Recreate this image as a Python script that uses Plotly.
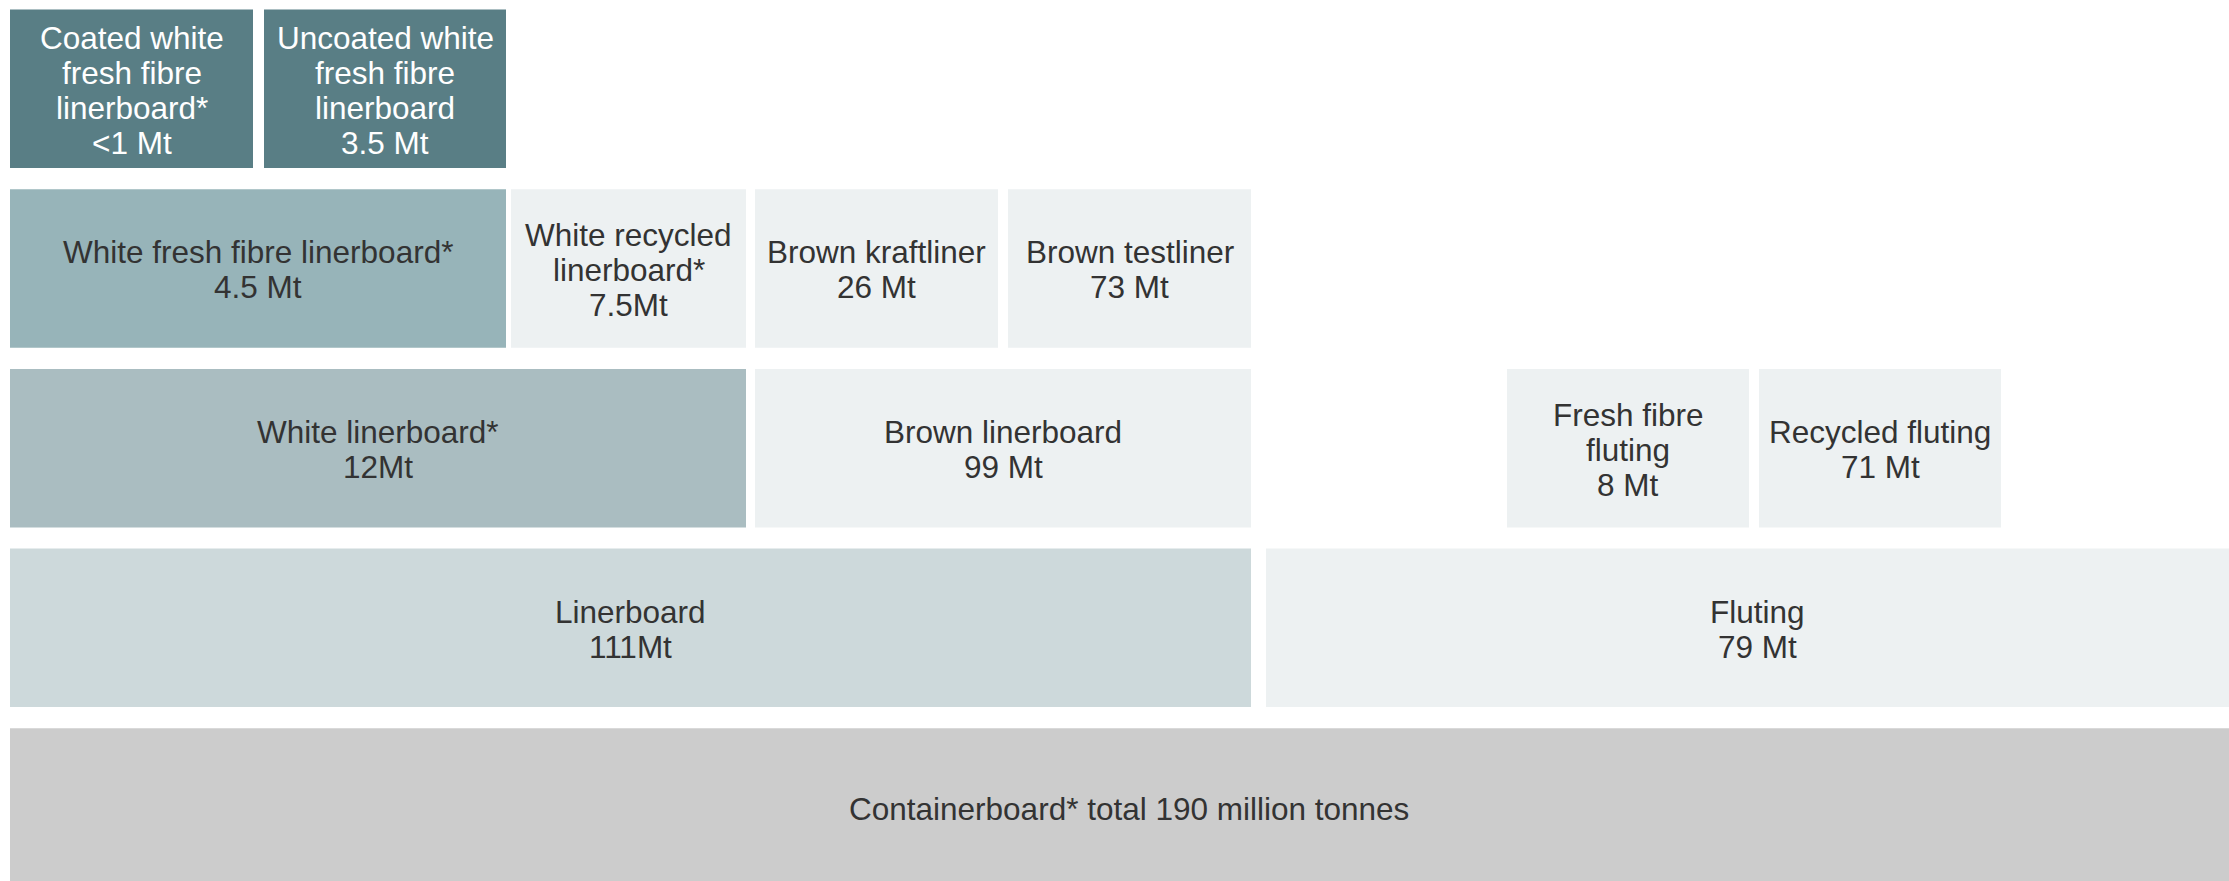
import plotly.graph_objects as go

# Containerboard breakdown (million tonnes)
names = [
    "Coated white<br>fresh fibre<br>linerboard*",
    "Uncoated white<br>fresh fibre<br>linerboard",
    "White fresh fibre linerboard*",
    "White recycled<br>linerboard*",
    "Brown kraftliner",
    "Brown testliner",
    "White linerboard*",
    "Brown linerboard",
    "Fresh fibre<br>fluting",
    "Recycled fluting",
    "Linerboard",
    "Fluting",
    "Containerboard* total",
]
value_labels = [
    "<1 Mt", "3.5 Mt", "4.5 Mt", "7.5Mt", "26 Mt", "73 Mt",
    "12Mt", "99 Mt", "8 Mt", "71 Mt", "111Mt", "79 Mt",
    "190 million tonnes",
]
values_mt = [1, 3.5, 4.5, 7.5, 26, 73, 12, 99, 8, 71, 111, 79, 190]

# Diagram layout: tier (0 = top) and horizontal extent of each block, in pixels
tiers = [0, 0, 1, 1, 1, 1, 2, 2, 2, 2, 3, 3, 4]
left_px = [10, 264, 10, 511, 755, 1008, 10, 755, 1507, 1759, 10, 1266, 10]
right_px = [253, 506, 506, 746, 998, 1251, 746, 1251, 1749, 2001, 1251, 2248, 2248]

DARK = "#597e85"
MID = "#97b4b9"
WL = "#aabdc1"
LB = "#cdd9db"
LIGHT = "#edf1f2"
TOTAL = "#cccccc"
fills = [DARK, DARK, MID, LIGHT, LIGHT, LIGHT, WL, LIGHT, LIGHT, LIGHT, LB, LIGHT, TOTAL]
text_colors = ["#ffffff", "#ffffff"] + ["#333333"] * 11

W, H = 2229, 881
PITCH = 179.7          # px between tier centres
TOP_CENTER = 88.75     # px of first tier centre
BLOCK_H = 158.5        # px block height
LINE_H = 35            # px between text lines
FONT = "Liberation Sans, Arial, Helvetica, sans-serif"
FS = 31.5

fig = go.Figure()
fig.add_trace(go.Bar(
    orientation="h",
    y=tiers,
    base=left_px,
    x=[r - l for l, r in zip(left_px, right_px)],
    width=BLOCK_H / PITCH,
    marker=dict(color=fills, line=dict(width=0)),
    hovertext=[f"{n.replace('<br>', ' ')}: {v} Mt" for n, v in zip(names, values_mt)],
    hoverinfo="text",
))

annotations = []
last = len(names) - 1
for i, (name, val) in enumerate(zip(names, value_labels)):
    lines = [f"{name} {val}"] if i == last else name.split("<br>") + [val]
    n = len(lines)
    cx = (left_px[i] + right_px[i]) / 2
    for k, line in enumerate(lines):
        annotations.append(dict(
            x=cx, y=tiers[i], xref="x", yref="y",
            text=line, showarrow=False,
            xanchor="center", yanchor="middle",
            yshift=-(k - (n - 1) / 2) * LINE_H - 1.5,
            font=dict(family=FONT, size=FS, color=text_colors[i]),
        ))

y_top = -TOP_CENTER / PITCH
y_bot = (H - TOP_CENTER) / PITCH

fig.update_layout(
    width=W, height=H,
    margin=dict(l=0, r=0, t=0, b=0),
    paper_bgcolor="#ffffff",
    plot_bgcolor="#ffffff",
    showlegend=False,
    barmode="overlay",
    annotations=annotations,
    xaxis=dict(range=[0, W], visible=False, fixedrange=True),
    yaxis=dict(range=[y_bot, y_top], visible=False, fixedrange=True),
)

fig.write_html("out.html")
